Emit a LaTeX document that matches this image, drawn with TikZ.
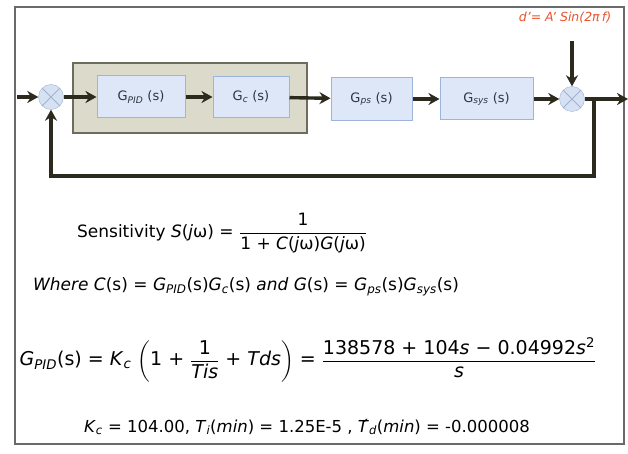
\documentclass[tikz,border=0pt]{standalone}
\usepackage{amsmath}
\usepackage{fontspec}
\setmainfont{DejaVu Sans}
\usetikzlibrary{arrows.meta,positioning}
\definecolor{wire}{HTML}{2B2A1C}
\definecolor{blockfill}{HTML}{DDE7F7}
\definecolor{blockline}{HTML}{9DB4DC}
\definecolor{shadefill}{HTML}{DCDACB}
\definecolor{shadeline}{HTML}{6E6C5C}
\definecolor{sumfill}{HTML}{D6E2F4}
\definecolor{sumline}{HTML}{9FB2D0}
\definecolor{framegray}{HTML}{6A6A6A}
\definecolor{distred}{HTML}{E8542C}
\definecolor{labelgray}{HTML}{2F3440}
\newcommand{\vi}[1]{\textit{#1}}
\newcommand{\sub}[1]{\textsubscript{\textit{#1}}}
\begin{document}
\begin{tikzpicture}[x=1pt, y=-1pt, >={Stealth[length=11pt, width=12pt]},
    block/.style={draw=blockline, fill=blockfill, line width=1pt, inner sep=0pt, text=labelgray, font=\fontsize{13}{15}\selectfont},
    sumjunc/.style={circle, draw=sumline, fill=sumfill, minimum size=25pt, inner sep=0pt,
        path picture={\draw[sumline, line width=.8pt] (path picture bounding box.north west) -- (path picture bounding box.south east)
            (path picture bounding box.north east) -- (path picture bounding box.south west);}},
    flow/.style={->, line width=3.4pt, draw=wire},
    eq/.style={font=\fontsize{17}{20}\selectfont, inner sep=0pt}]
    \useasboundingbox (0,0) rectangle (628,454);
    \draw[framegray, line width=1.4pt] (15,7) rectangle (624,444);

    % controller group
    \node[draw=shadeline, fill=shadefill, line width=1.4pt, minimum width=234pt, minimum height=70pt] (ctrl) at (190,98) {};

    \node[block, minimum width=88pt, minimum height=42pt] (gpid) at (141,97) {G\sub{PID} (s)};
    \node[block, minimum width=76pt, minimum height=41pt] (gc) at (251,97) {G\sub{c} (s)};
    \node[block, minimum width=81pt, minimum height=43pt] (gps) at (371.5,99) {G\sub{ps} (s)};
    \node[block, minimum width=93pt, minimum height=42pt] (gsys) at (486.5,99) {G\sub{sys} (s)};

    \node[sumjunc] (sum1) at (51,97) {};
    \node[sumjunc] (sum2) at (572,99) {};

    \coordinate (in) at (17,97);
    \coordinate (out) at (628,99);
    \coordinate (branch) at (594,99);
    \coordinate (dtop) at (572,41);

    \node[font=\fontsize{12.5}{15}\selectfont\itshape, text=distred] (dlabel) at (565,18) {d'= A' Sin(2π\,f)};

    % forward path
    \draw[flow] (in) -- (sum1);
    \draw[flow] (sum1) -- (gpid);
    \draw[flow] (gpid) -- (gc);
    \draw[flow] (gc) -- (gps);
    \draw[flow] (gps) -- (gsys);
    \draw[flow] (gsys) -- (sum2);
    \draw[flow] (sum2) -- (out);
    \draw[flow] (dtop) -- (sum2);
    % feedback
    \draw[flow] (branch) |- (51,176) -- (sum1);

    % equations
    \node[eq] (sens) at (222,233) {Sensitivity \vi{S}(\vi{j}ω) = $\dfrac{\text{1}}{\text{1 + \vi{C}(\vi{j}ω)\vi{G}(\vi{j}ω)}}$};
    \node[eq] (where) at (246,287) {\vi{Where C}(s) = \vi{G}\sub{PID}(s)\vi{G}\sub{c}(s) \vi{and G}(s) = \vi{G}\sub{ps}(s)\vi{G}\sub{sys}(s)};
    \node[eq, font=\fontsize{19}{23}\selectfont] (pid) at (308,360) {\vi{G}\sub{PID}(s) = \vi{K}\sub{c} $\left(\text{1 + }\dfrac{\text{1}}{\text{\vi{Tis}}}\text{ + \vi{Tds}}\right)$ = $\dfrac{\text{138578 + 104\vi{s} − 0.04992\vi{s}\textsuperscript{2}}}{\text{\vi{s}}}$};
    \node[eq, font=\fontsize{16.5}{19}\selectfont] (gains) at (307,427) {\vi{K}\sub{c} = 104.00,\ \vi{T}\sub{i}(\vi{min}) = 1.25E-5 ,\ \'{\vi{T}}\sub{d}(\vi{min}) = -0.000008};
\end{tikzpicture}
\end{document}
